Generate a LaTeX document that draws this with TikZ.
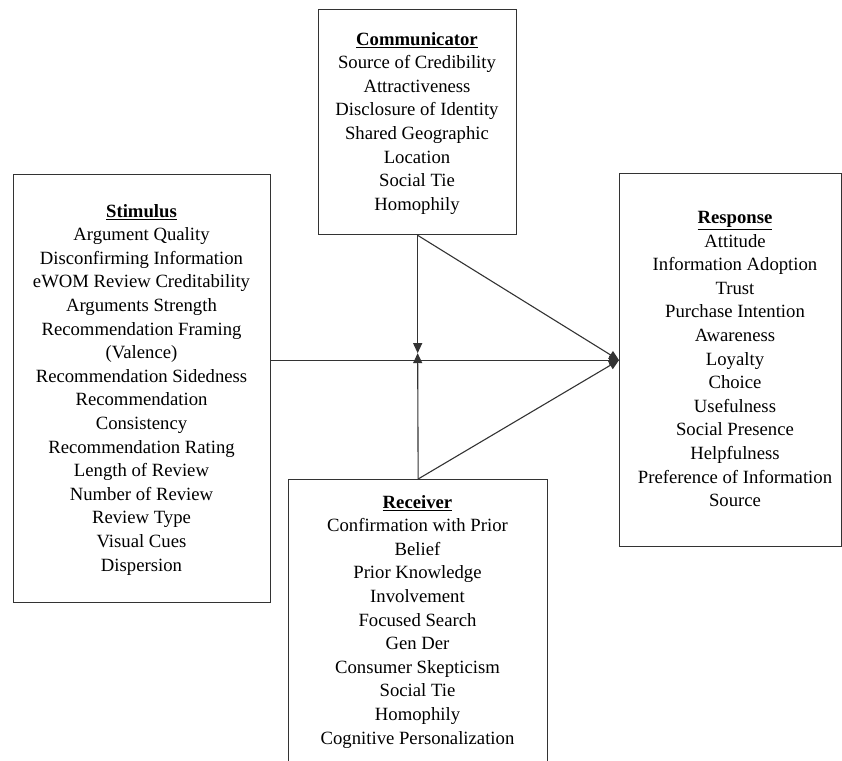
\documentclass[tikz,border=0pt]{standalone}
\usepackage{fontspec}
\setmainfont{Liberation Serif}
\usetikzlibrary{arrows.meta}
\begin{document}
\begin{tikzpicture}[x=1pt,y=-1pt,
  box/.style={draw=black!80, line width=1.3pt, inner sep=0pt, anchor=north west},
  txt/.style={anchor=north, inner sep=0pt, align=center,
    font=\fontsize{18.7}{23.6}\selectfont},
  conn/.style={draw=black!80, line width=1.1pt,
    -{Triangle[length=10pt,width=9pt]}}]
\useasboundingbox (0,0) rectangle (842,760);

% boxes
\node[box, minimum width=198pt, minimum height=225pt] (comm) at (318,9) {};
\node[box, minimum width=257pt, minimum height=428pt] (stim) at (13,174) {};
\node[box, minimum width=222pt, minimum height=373pt] (resp) at (619,173) {};
\node[box, minimum width=259pt, minimum height=300pt] (rec) at (288,479) {};

% box contents
\node[txt] (commtxt) at (417,32) {\textbf{\underline{Communicator}}\\
  Source of Credibility\\ Attractiveness\\ Disclosure of Identity\\
  Shared Geographic\\ Location\\ Social Tie\\ Homophily};
\node[txt] (stimtxt) at (141.5,204) {\textbf{\underline{Stimulus}}\\
  Argument Quality\\ Disconfirming Information\\ eWOM Review Creditability\\
  Arguments Strength\\ Recommendation Framing\\ (Valence)\\
  Recommendation Sidedness\\ Recommendation\\ Consistency\\
  Recommendation Rating\\ Length of Review\\ Number of Review\\
  Review Type\\ Visual Cues\\ Dispersion};
\node[txt] (resptxt) at (735,211) {\textbf{\underline{Response}}\\
  Attitude\\ Information Adoption\\ Trust\\ Purchase Intention\\
  Awareness\\ Loyalty\\ Choice\\ Usefulness\\ Social Presence\\
  Helpfulness\\ Preference of Information\\ Source};
\node[txt] (rectxt) at (417.5,495) {\textbf{\underline{Receiver}}\\
  Confirmation with Prior\\ Belief\\ Prior Knowledge\\ Involvement\\
  Focused Search\\ Gen Der\\ Consumer Skepticism\\ Social Tie\\
  Homophily\\ Cognitive Personalization};

% connectors: the two vertical arrows meet just above the main line
\coordinate (hub) at ([yshift=7pt]comm.south |- resp.west);
\draw[conn] (stim.east |- resp.west) -- (resp.west);
\draw[conn] (comm.south) -- (hub);
\draw[conn] (rec.north) -- (hub);
\draw[conn] (comm.south) -- (resp.west);
\draw[conn] (rec.north) -- (resp.west);
\end{tikzpicture}
\end{document}
